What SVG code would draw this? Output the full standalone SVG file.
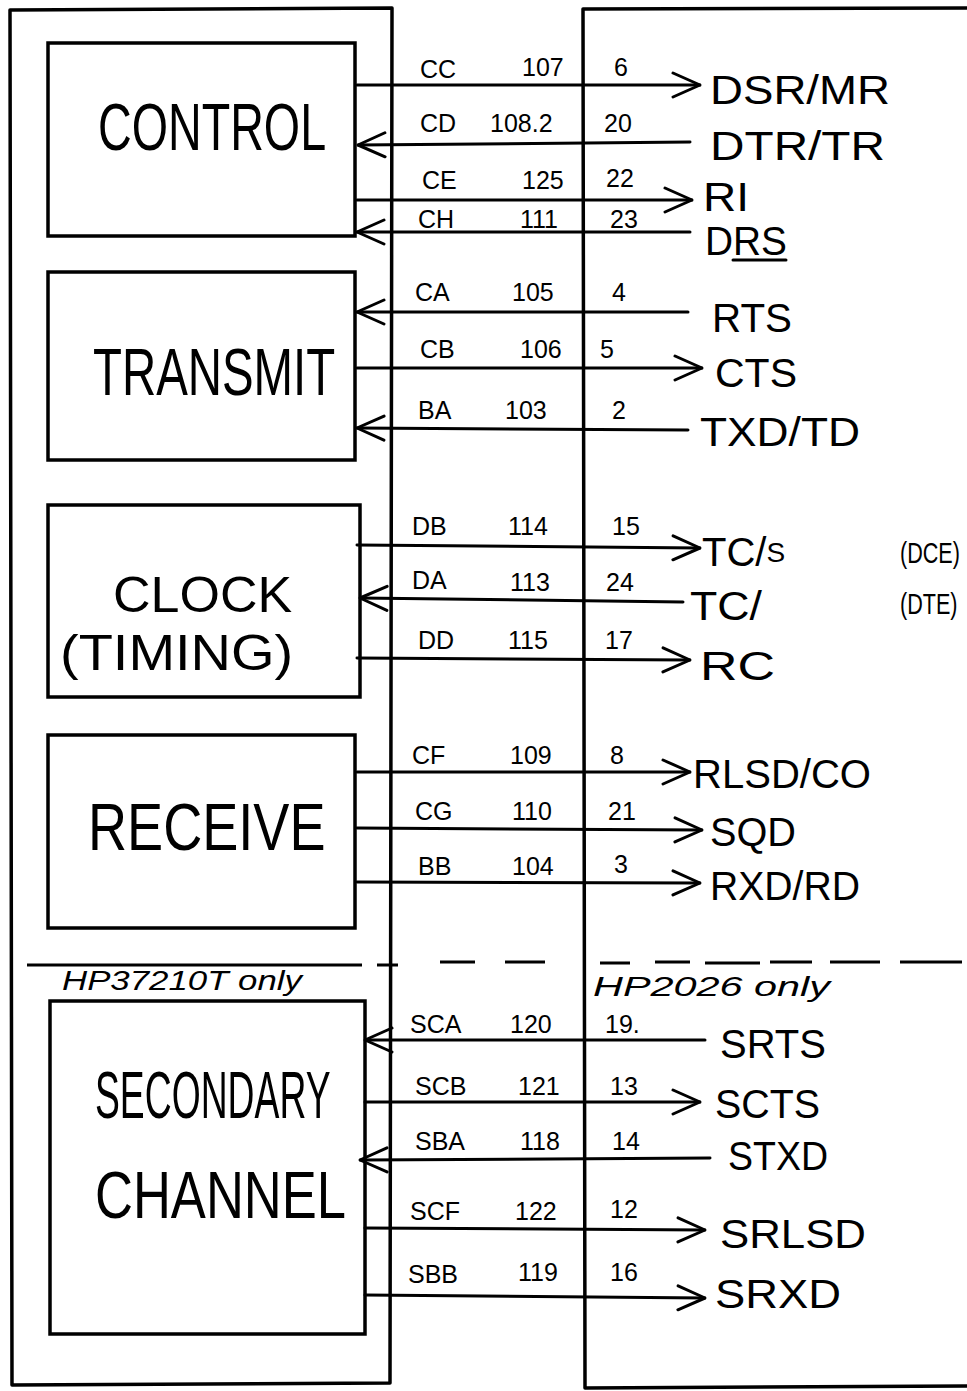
<svg xmlns="http://www.w3.org/2000/svg" width="967" height="1391" viewBox="0 0 967 1391">
<style>
.frame{fill:none;stroke:#000;stroke-width:3.5;stroke-linejoin:round}
.box{fill:none;stroke:#000;stroke-width:3.5}
.ln{fill:none;stroke:#000;stroke-width:3;stroke-linecap:round}
.arr{marker-end:url(#ah)}
.big{font-family:"Liberation Sans",Arial,sans-serif;font-size:66px;fill:#000}
.mid{font-family:"Liberation Sans",Arial,sans-serif;font-size:50px;fill:#000}
.sm{font-family:"Liberation Sans",Arial,sans-serif;font-size:25px;fill:#000}
.sig{font-family:"Liberation Sans",Arial,sans-serif;font-size:40px;fill:#000}
.par{font-family:"Liberation Sans",Arial,sans-serif;font-size:30px;fill:#000}
.note{font-family:"Liberation Sans",Arial,sans-serif;font-size:27px;font-style:italic;fill:#000}
.dash{fill:none;stroke:#000;stroke-width:3}
</style>
<defs>
<marker id="ah" viewBox="0 0 30 30" refX="29" refY="15" markerWidth="30" markerHeight="30" markerUnits="userSpaceOnUse" orient="auto">
<path d="M2,3 L29,15 L2,27" fill="none" stroke="#000" stroke-width="3" stroke-linecap="round" stroke-linejoin="round"/>
</marker>
</defs>
<rect width="967" height="1391" fill="#fff"/>

<g id="interface-left">
<path class="frame" d="M10,10 L392,8 L390,1383 L12,1385 Z"/>
</g>
<g id="interface-right">
<path class="frame" d="M975,8 L583,9 L585,1388 L975,1386"/>
</g>

<g id="control">
<rect class="box" x="48" y="43" width="307" height="193"/>
<text class="big" transform="translate(98,150) scale(0.707,1)">CONTROL</text>
</g>
<g id="transmit">
<rect class="box" x="48" y="272" width="307" height="188"/>
<text class="big" transform="translate(93,395) scale(0.718,1)">TRANSMIT</text>
</g>
<g id="clock">
<rect class="box" x="48" y="505" width="312" height="192"/>
<text class="mid" transform="translate(113,612) scale(1.04,1)">CLOCK</text>
<text class="mid" transform="translate(60,670) scale(1.12,1)">(TIMING)</text>
</g>
<g id="receive">
<rect class="box" x="48" y="735" width="307" height="193"/>
<text class="big" transform="translate(88,850) scale(0.82,1)">RECEIVE</text>
</g>
<g id="secondary">
<rect class="box" x="50" y="1001" width="315" height="333"/>
<text class="big" transform="translate(95,1118) scale(0.565,1)">SECONDARY</text>
<text class="big" transform="translate(95,1218) scale(0.796,1)">CHANNEL</text>
</g>

<g id="divider">
<line class="dash" x1="27" y1="965" x2="362" y2="965"/>
<path class="dash" d="M377,965 H398 M440,962 H475 M505,962 H545 M600,963 H630 M655,962 H690 M705,963 H760 M770,962 H812 M830,962 H880 M900,962 H962"/>
<text class="note" x="62" y="990" textLength="240" lengthAdjust="spacingAndGlyphs">HP37210T only</text>
<text class="note" x="593" y="996" textLength="237" lengthAdjust="spacingAndGlyphs">HP2026 only</text>
</g>

<g id="connectors">
<path class="ln arr" d="M357,85 L700,85"/>
<path class="ln arr" d="M690,142 L358,145"/>
<path class="ln arr" d="M357,200 L692,200"/>
<path class="ln arr" d="M690,232 L357,232"/>
<path class="ln arr" d="M688,312 L357,312"/>
<path class="ln arr" d="M357,368 L702,368"/>
<path class="ln arr" d="M688,430 L357,428"/>
<path class="ln arr" d="M357,545 L700,548"/>
<path class="ln arr" d="M683,602 L360,598"/>
<path class="ln arr" d="M357,658 L690,660"/>
<path class="ln arr" d="M357,772 L690,772"/>
<path class="ln arr" d="M357,828 L702,830"/>
<path class="ln arr" d="M357,882 L700,883"/>
<path class="ln arr" d="M705,1040 L365,1040"/>
<path class="ln arr" d="M365,1102 L700,1102"/>
<path class="ln arr" d="M710,1158 L360,1160"/>
<path class="ln arr" d="M365,1228 L705,1230"/>
<path class="ln arr" d="M365,1295 L705,1298"/>
</g>

<g id="labels">
<text class="sm" x="420" y="78">CC</text>
<text class="sm" x="522" y="76">107</text>
<text class="sm" x="614" y="76">6</text>
<text class="sig" x="710" y="104" textLength="180" lengthAdjust="spacingAndGlyphs">DSR/MR</text>

<text class="sm" x="420" y="132">CD</text>
<text class="sm" x="490" y="132">108.2</text>
<text class="sm" x="604" y="132">20</text>
<text class="sig" x="710" y="160" textLength="175" lengthAdjust="spacingAndGlyphs">DTR/TR</text>

<text class="sm" x="422" y="189">CE</text>
<text class="sm" x="522" y="189">125</text>
<text class="sm" x="606" y="187">22</text>
<text class="sig" x="703" y="211" font-size="34" textLength="46" lengthAdjust="spacingAndGlyphs">RI</text>

<text class="sm" x="418" y="228">CH</text>
<text class="sm" x="520" y="228">111</text>
<text class="sm" x="610" y="228">23</text>
<text class="sig" x="705" y="255" font-size="36" textLength="82" lengthAdjust="spacingAndGlyphs">DRS</text>
<line class="ln" x1="733" y1="260" x2="786" y2="260"/>

<text class="sm" x="415" y="301">CA</text>
<text class="sm" x="512" y="301">105</text>
<text class="sm" x="612" y="301">4</text>
<text class="sig" x="712" y="332" textLength="80" lengthAdjust="spacingAndGlyphs">RTS</text>

<text class="sm" x="420" y="358">CB</text>
<text class="sm" x="520" y="358">106</text>
<text class="sm" x="600" y="358">5</text>
<text class="sig" x="715" y="387" textLength="82" lengthAdjust="spacingAndGlyphs">CTS</text>

<text class="sm" x="418" y="419">BA</text>
<text class="sm" x="505" y="419">103</text>
<text class="sm" x="612" y="419">2</text>
<text class="sig" x="700" y="446" textLength="160" lengthAdjust="spacingAndGlyphs">TXD/TD</text>

<text class="sm" x="412" y="535">DB</text>
<text class="sm" x="508" y="535">114</text>
<text class="sm" x="612" y="535">15</text>
<text class="sig" x="702" y="566">TC/<tspan font-size="28" dy="-4">S</tspan></text>
<text class="par" transform="translate(900,563) scale(0.72,1)">(DCE)</text>

<text class="sm" x="412" y="589">DA</text>
<text class="sm" x="510" y="591">113</text>
<text class="sm" x="606" y="591">24</text>
<text class="sig" x="690" y="620" textLength="72" lengthAdjust="spacingAndGlyphs">TC/</text>
<text class="par" transform="translate(900,614) scale(0.72,1)">(DTE)</text>

<text class="sm" x="418" y="649">DD</text>
<text class="sm" x="508" y="649">115</text>
<text class="sm" x="605" y="649">17</text>
<text class="sig" x="700" y="680" textLength="75" lengthAdjust="spacingAndGlyphs">RC</text>

<text class="sm" x="412" y="764">CF</text>
<text class="sm" x="510" y="764">109</text>
<text class="sm" x="610" y="764">8</text>
<text class="sig" x="693" y="788" textLength="178" lengthAdjust="spacingAndGlyphs">RLSD/CO</text>

<text class="sm" x="415" y="820">CG</text>
<text class="sm" x="512" y="820">110</text>
<text class="sm" x="608" y="820">21</text>
<text class="sig" x="710" y="846" textLength="86" lengthAdjust="spacingAndGlyphs">SQD</text>

<text class="sm" x="418" y="875">BB</text>
<text class="sm" x="512" y="875">104</text>
<text class="sm" x="614" y="873">3</text>
<text class="sig" x="710" y="900" textLength="150" lengthAdjust="spacingAndGlyphs">RXD/RD</text>

<text class="sm" x="410" y="1033">SCA</text>
<text class="sm" x="510" y="1033">120</text>
<text class="sm" x="605" y="1033">19.</text>
<text class="sig" x="720" y="1058" textLength="106" lengthAdjust="spacingAndGlyphs">SRTS</text>

<text class="sm" x="415" y="1095">SCB</text>
<text class="sm" x="518" y="1095">121</text>
<text class="sm" x="610" y="1095">13</text>
<text class="sig" x="715" y="1118" textLength="105" lengthAdjust="spacingAndGlyphs">SCTS</text>

<text class="sm" x="415" y="1150">SBA</text>
<text class="sm" x="520" y="1150">118</text>
<text class="sm" x="612" y="1150">14</text>
<text class="sig" x="728" y="1170" textLength="100" lengthAdjust="spacingAndGlyphs">STXD</text>

<text class="sm" x="410" y="1220">SCF</text>
<text class="sm" x="515" y="1220">122</text>
<text class="sm" x="610" y="1218">12</text>
<text class="sig" x="720" y="1248" textLength="146" lengthAdjust="spacingAndGlyphs">SRLSD</text>

<text class="sm" x="408" y="1283">SBB</text>
<text class="sm" x="518" y="1281">119</text>
<text class="sm" x="610" y="1281">16</text>
<text class="sig" x="715" y="1308" textLength="126" lengthAdjust="spacingAndGlyphs">SRXD</text>
</g>
</svg>
